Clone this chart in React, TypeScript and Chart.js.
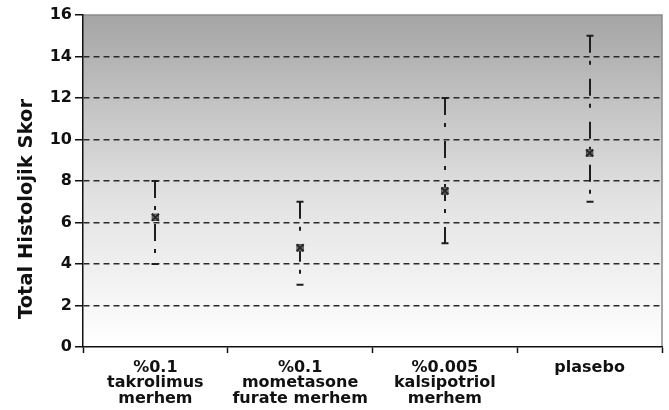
import React, { useEffect, useRef } from "react";
import { Chart, registerables } from "chart.js";

Chart.register(...registerables);

const CATEGORIES: string[][] = [
  ["%0.1", "takrolimus", "merhem"],
  ["%0.1", "mometasone", "furate merhem"],
  ["%0.005", "kalsipotriol", "merhem"],
  ["plasebo"],
];
const MEANS: number[] = [6.25, 4.78, 7.52, 9.35];
const LOWS: number[] = [4, 3, 5, 7];
const HIGHS: number[] = [8, 7, 12, 15];
const Y_MIN = 0;
const Y_MAX = 16;
const Y_STEP = 2;
const Y_TITLE = "Total Histolojik Skor";

const FONT = "'DejaVu Sans', 'Liberation Sans', Arial, sans-serif";

const backgroundPlugin = {
  id: "bgGradient",
  beforeDraw(chart: any) {
    const { ctx, chartArea } = chart;
    if (!chartArea) return;
    const { left, top, right, bottom } = chartArea;
    const g = ctx.createLinearGradient(0, top, 0, bottom);
    g.addColorStop(0, "#a5a5a5");
    g.addColorStop(0.55, "#e2e2e2");
    g.addColorStop(1, "#ffffff");
    ctx.save();
    ctx.fillStyle = g;
    ctx.fillRect(left, top, right - left, bottom - top);
    ctx.strokeStyle = "#8c8c8c";
    ctx.lineWidth = 1.5;
    ctx.beginPath();
    ctx.moveTo(left, top);
    ctx.lineTo(right, top);
    ctx.lineTo(right, bottom);
    ctx.stroke();
    ctx.restore();
  },
};

const errorBarPlugin = {
  id: "errorBars",
  beforeDatasetsDraw(chart: any) {
    const { ctx } = chart;
    const xs = chart.scales.x;
    const ys = chart.scales.y;
    ctx.save();
    ctx.strokeStyle = "#1e1e1e";
    ctx.lineWidth = 2;
    for (let i = 0; i < MEANS.length; i++) {
      const x = Math.round(xs.getPixelForValue(i));
      const yHi = ys.getPixelForValue(HIGHS[i]);
      const yLo = ys.getPixelForValue(LOWS[i]);
      ctx.setLineDash([17, 8, 4, 14]);
      ctx.beginPath();
      ctx.moveTo(x, yHi);
      ctx.lineTo(x, yLo);
      ctx.stroke();
      ctx.setLineDash([]);
      ctx.beginPath();
      ctx.moveTo(x - 3.5, yHi);
      ctx.lineTo(x + 3.5, yHi);
      ctx.moveTo(x - 3.5, yLo);
      ctx.lineTo(x + 3.5, yLo);
      ctx.stroke();
    }
    ctx.restore();
  },
};

const yTitlePlugin = {
  id: "yTitle",
  afterDraw(chart: any) {
    const { ctx } = chart;
    ctx.save();
    ctx.translate(27, 209);
    ctx.rotate(-Math.PI / 2);
    ctx.font = `bold 19.5px ${FONT}`;
    ctx.fillStyle = "#111";
    ctx.textAlign = "center";
    ctx.textBaseline = "middle";
    ctx.fillText(Y_TITLE, 0, 0);
    ctx.restore();
  },
};

export default function App() {
  const ref = useRef<HTMLCanvasElement | null>(null);

  useEffect(() => {
    document.body.style.margin = "0";
    if (!ref.current) return;
    const chart = new Chart(ref.current, {
      type: "line",
      data: {
        labels: CATEGORIES as any,
        datasets: [
          {
            data: MEANS,
            showLine: false,
            pointStyle: "crossRot",
            pointRadius: 5,
            pointBorderColor: "#262626",
            pointBorderWidth: 2,
          },
          {
            data: MEANS,
            showLine: false,
            pointStyle: "rect",
            pointRadius: 4.5,
            pointBackgroundColor: "#8a8a8a",
            pointBorderColor: "#444",
            pointBorderWidth: 1,
          },
        ],
      },
      options: {
        animation: false,
        responsive: true,
        maintainAspectRatio: false,
        layout: { padding: { top: 15, right: 2, left: 0, bottom: 0 } },
        plugins: {
          legend: { display: false },
          tooltip: { enabled: false },
        },
        scales: {
          x: {
            offset: true,
            afterFit: (s: any) => {
              s.height = 63;
            },
            grid: {
              offset: true,
              drawOnChartArea: false,
              drawTicks: true,
              tickLength: 6,
              tickColor: "#111",
              tickWidth: 1.5,
            },
            border: { color: "#111", width: 1.5 },
            ticks: {
              color: "#111",
              padding: 7,
              maxRotation: 0,
              autoSkip: false,
              font: { family: FONT, size: 16, weight: "bold", lineHeight: 0.96 },
            },
          },
          y: {
            min: Y_MIN,
            max: Y_MAX,
            afterFit: (s: any) => {
              s.width = 83;
            },
            grid: {
              color: (c: any) =>
                c.tick && (c.tick.value === Y_MIN || c.tick.value === Y_MAX)
                  ? "rgba(0,0,0,0)"
                  : "#2a2a2a",
              lineWidth: 1.5,
              drawTicks: true,
              tickLength: 8,
              tickColor: "#111",
              tickWidth: 1.5,
              tickBorderDash: [],
            },
            border: { color: "#111", width: 1.5, dash: [6, 4] },
            ticks: {
              stepSize: Y_STEP,
              color: "#111",
              padding: 3,
              font: { family: FONT, size: 16, weight: "bold" },
            },
          },
        },
      },
      plugins: [backgroundPlugin, errorBarPlugin, yTitlePlugin],
    });
    return () => chart.destroy();
  }, []);

  return (
    <div style={{ width: 669, height: 410, position: "relative" }}>
      <canvas ref={ref} />
    </div>
  );
}
